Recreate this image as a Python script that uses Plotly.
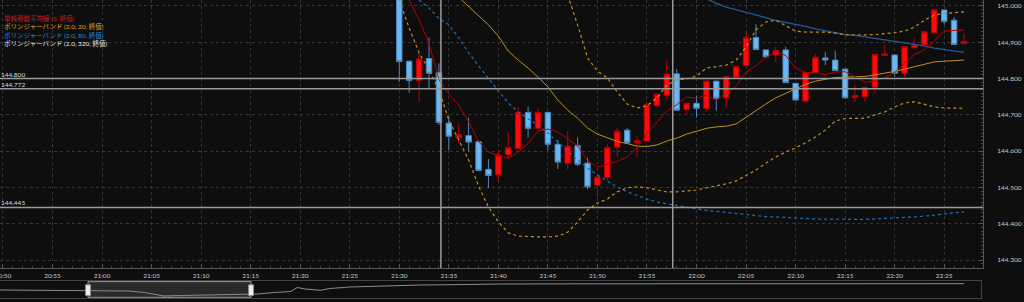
import plotly.graph_objects as go

DAY = "2024-05-14"
NEXT_DAY = "2024-05-15"

# ---------------- candle data (1-minute) ----------------
candle_times = [
    "21:30", "21:31", "21:32", "21:33", "21:34", "21:35", "21:36", "21:37", "21:38", "21:39",
    "21:40", "21:41", "21:42", "21:43", "21:44", "21:45", "21:46", "21:47", "21:48", "21:49",
    "21:50", "21:51", "21:52", "21:53", "21:54", "21:55", "21:56", "21:57", "21:58", "21:59",
    "22:00", "22:01", "22:02", "22:03", "22:04", "22:05", "22:06", "22:07", "22:08", "22:09",
    "22:10", "22:11", "22:12", "22:13", "22:14", "22:15", "22:16", "22:17", "22:18", "22:19",
    "22:20", "22:21", "22:22", "22:23", "22:24", "22:25", "22:26", "22:27",
]
opens = [
    145.065, 144.848, 144.795, 144.855, 144.817, 144.677, 144.637, 144.643, 144.626, 144.550,
    144.535, 144.591, 144.608, 144.707, 144.663, 144.707, 144.619, 144.567, 144.615, 144.567,
    144.506, 144.528, 144.611, 144.658, 144.623, 144.628, 144.726, 144.754, 144.813, 144.715,
    144.732, 144.718, 144.793, 144.747, 144.804, 144.836, 144.913, 144.879, 144.865, 144.879,
    144.787, 144.738, 144.816, 144.857, 144.851, 144.826, 144.748, 144.750, 144.776, 144.864,
    144.865, 144.815, 144.885, 144.894, 144.926, 144.989, 144.961, 144.897,
]
highs = [
    145.080, 144.849, 144.871, 144.913, 144.842, 144.697, 144.677, 144.693, 144.627, 144.578,
    144.601, 144.651, 144.721, 144.723, 144.718, 144.708, 144.631, 144.654, 144.638, 144.582,
    144.530, 144.619, 144.663, 144.663, 144.643, 144.732, 144.758, 144.853, 144.826, 144.733,
    144.753, 144.794, 144.794, 144.806, 144.834, 144.931, 144.950, 144.880, 144.888, 144.888,
    144.788, 144.817, 144.868, 144.874, 144.877, 144.829, 144.782, 144.777, 144.868, 144.894,
    144.866, 144.889, 144.910, 144.930, 144.990, 144.990, 144.969, 144.925,
]
lows = [
    144.791, 144.761, 144.734, 144.773, 144.672, 144.603, 144.622, 144.599, 144.545, 144.498,
    144.515, 144.578, 144.606, 144.638, 144.662, 144.603, 144.551, 144.550, 144.559, 144.495,
    144.474, 144.519, 144.585, 144.620, 144.585, 144.625, 144.720, 144.739, 144.713, 144.702,
    144.693, 144.709, 144.712, 144.720, 144.803, 144.834, 144.879, 144.857, 144.845, 144.788,
    144.740, 144.734, 144.815, 144.837, 144.821, 144.745, 144.736, 144.736, 144.762, 144.863,
    144.805, 144.805, 144.884, 144.893, 144.925, 144.950, 144.893, 144.896,
]
closes = [
    144.847, 144.795, 144.854, 144.815, 144.679, 144.641, 144.645, 144.625, 144.547, 144.533,
    144.590, 144.610, 144.707, 144.663, 144.707, 144.619, 144.570, 144.614, 144.564, 144.502,
    144.529, 144.610, 144.655, 144.623, 144.629, 144.729, 144.757, 144.812, 144.713, 144.732,
    144.718, 144.793, 144.746, 144.805, 144.833, 144.913, 144.880, 144.860, 144.877, 144.789,
    144.741, 144.816, 144.859, 144.851, 144.822, 144.747, 144.753, 144.776, 144.867, 144.868,
    144.815, 144.888, 144.894, 144.929, 144.989, 144.957, 144.894, 144.902,
]

# ---------------- indicator readings ----------------
sma5_start = "21:30"
sma5 = [
    145.060, 145.017, 144.961, 144.898, 144.798, 144.757, 144.727, 144.681, 144.627, 144.598,
    144.588, 144.581, 144.597, 144.621, 144.655, 144.661, 144.653, 144.635, 144.615, 144.574,
    144.556, 144.564, 144.572, 144.584, 144.609, 144.649, 144.679, 144.710, 144.728, 144.749,
    144.746, 144.754, 144.740, 144.759, 144.779, 144.818, 144.835, 144.858, 144.873, 144.864,
    144.829, 144.817, 144.816, 144.811, 144.818, 144.819, 144.806, 144.790, 144.793, 144.802,
    144.816, 144.843, 144.866, 144.879, 144.903, 144.931, 144.933, 144.934,
]

bb20_mid_start = "21:36"
bb20_mid = [
    145.024, 144.999, 144.973, 144.948, 144.917, 144.876, 144.851, 144.829, 144.804, 144.777,
    144.741, 144.713, 144.691, 144.664, 144.647, 144.636, 144.627, 144.621, 144.614, 144.613,
    144.617, 144.628, 144.636, 144.647, 144.656, 144.663, 144.667, 144.669, 144.675, 144.694,
    144.713, 144.730, 144.747, 144.760, 144.773, 144.784, 144.793, 144.799, 144.803, 144.804,
    144.804, 144.806, 144.810, 144.814, 144.820, 144.826, 144.832, 144.839, 144.846, 144.848,
    144.850, 144.851,
]

bb20_upper_start = "21:47"
bb20_upper = [
    145.030, 144.948, 144.857, 144.821, 144.802, 144.763, 144.730, 144.719, 144.725, 144.747,
    144.782, 144.796, 144.799, 144.807, 144.829, 144.833, 144.837, 144.851, 144.887, 144.934,
    144.956, 144.961, 144.945, 144.931, 144.928, 144.928, 144.928, 144.925, 144.921, 144.920,
    144.920, 144.921, 144.924, 144.926, 144.931, 144.942, 144.961, 144.975, 144.979, 144.982,
    144.984,
]

bb20_lower_start = "21:30"
bb20_lower = [
    145.017, 144.939, 144.871, 144.824, 144.769, 144.686, 144.631, 144.576, 144.504, 144.446,
    144.405, 144.375, 144.366, 144.364, 144.364, 144.364, 144.366, 144.377, 144.405, 144.438,
    144.457, 144.468, 144.488, 144.499, 144.502, 144.499, 144.493, 144.488, 144.488, 144.490,
    144.493, 144.499, 144.504, 144.510, 144.518, 144.532, 144.548, 144.567, 144.584, 144.598,
    144.609, 144.623, 144.639, 144.658, 144.683, 144.690, 144.690, 144.691, 144.700, 144.708,
    144.722, 144.733, 144.736, 144.729, 144.722, 144.719, 144.718, 144.718,
]

bb80_mid_start = "22:01"
bb80_mid = [
    145.020, 145.007, 144.997, 144.990, 144.983, 144.977, 144.968, 144.960, 144.955, 144.950,
    144.944, 144.937, 144.931, 144.926, 144.921, 144.919, 144.915, 144.910, 144.908, 144.904,
    144.898, 144.894, 144.890, 144.884, 144.880, 144.876, 144.872,
]

bb80_lower_start = "21:32"
bb80_lower = [
    145.017, 144.994, 144.966, 144.948, 144.912, 144.871, 144.835, 144.799, 144.766, 144.733,
    144.708, 144.689, 144.672, 144.650, 144.625, 144.601, 144.576, 144.554, 144.534, 144.518,
    144.501, 144.488, 144.477, 144.468, 144.460, 144.455, 144.449, 144.445, 144.441, 144.437,
    144.434, 144.431, 144.429, 144.426, 144.423, 144.420, 144.419, 144.417, 144.416, 144.415,
    144.413, 144.413, 144.412, 144.412, 144.412, 144.412, 144.413, 144.415, 144.416, 144.417,
    144.419, 144.421, 144.424, 144.427, 144.430, 144.433,
]

# horizontal reference lines and vertical cursor lines
hline_prices = [144.800, 144.772, 144.445]
vline_times = ["21:34:12", "21:57:36"]

legend_labels = [
    "単純移動平均線 (5, 終値)",
    "ボリンジャーバンド (2.0, 20, 終値)",
    "ボリンジャーバンド (2.0, 80, 終値)",
    "ボリンジャーバンド (2.0, 320, 終値)",
]
legend_colors = ["#d01818", "#e0a22a", "#2a86dc", "#e6e6e6"]

# navigator (overview) series
nav_times = [
    (DAY, "19:56"), (DAY, "20:14"), (DAY, "20:33"), (DAY, "20:50"), (DAY, "21:03"),
    (DAY, "21:15"), (DAY, "21:24"), (DAY, "21:36"), (DAY, "21:46"), (DAY, "21:58"),
    (DAY, "22:13"), (DAY, "22:25"), (DAY, "22:33"), (DAY, "22:43"), (DAY, "22:53"),
    (DAY, "22:57"), (DAY, "23:02"), (DAY, "23:11"), (DAY, "23:17"), (DAY, "23:29"),
    (DAY, "23:47"), (NEXT_DAY, "00:12"), (NEXT_DAY, "00:42"), (NEXT_DAY, "01:00"),
    (NEXT_DAY, "02:01"), (NEXT_DAY, "03:02"), (NEXT_DAY, "04:03"), (NEXT_DAY, "05:04"),
    (NEXT_DAY, "05:43"),
]
nav_values = [
    144.800, 144.788, 144.782, 144.770, 144.740, 144.740, 144.650, 144.440, 144.470, 144.500,
    144.530, 144.560, 144.560, 144.650, 144.710, 144.950, 144.860, 144.782, 144.890, 144.980,
    145.040, 145.100, 145.130, 145.160, 145.172, 145.178, 145.184, 145.178, 145.178,
]

# view ranges
main_x_range = [f"{DAY} 20:49:42", f"{DAY} 22:28:55"]
main_y_range = [144.2782, 145.0165]
nav_x_range = [f"{DAY} 19:56:06", f"{NEXT_DAY} 05:53:12"]
nav_y_range = [144.32, 145.34]


def ts(hm, day=DAY):
    return f"{day} {hm}:00" if hm.count(":") == 1 else f"{day} {hm}"


def xs_from(start, n):
    i = candle_times.index(start)
    return [ts(t) for t in candle_times[i:i + n]]


FONT = "Lato, Noto Sans CJK JP, sans-serif"
BG = "#0e0e0e"
GOLD = "#c0901e"

fig = go.Figure()

fig.add_trace(go.Candlestick(
    x=[ts(t) for t in candle_times], open=opens, high=highs, low=lows, close=closes,
    increasing=dict(line=dict(color="#c00000", width=1), fillcolor="#ff0a0a"),
    decreasing=dict(line=dict(color="#4f88b8", width=1), fillcolor="#68b8f8"),
    whiskerwidth=0, showlegend=False, hoverinfo="skip", xaxis="x", yaxis="y",
))

lines = [
    (bb80_lower_start, bb80_lower, "#1f6fbf", "dot", 1.2),
    (bb80_mid_start, bb80_mid, "#1f5c9c", "solid", 1.3),
    (bb20_lower_start, bb20_lower, GOLD, "dot", 1.2),
    (bb20_upper_start, bb20_upper, GOLD, "dot", 1.2),
    (bb20_mid_start, bb20_mid, GOLD, "solid", 1.0),
    (sma5_start, sma5, "#b80000", "solid", 1.0),
]
for start, vals, color, dash, w in lines:
    fig.add_trace(go.Scatter(
        x=xs_from(start, len(vals)), y=vals, mode="lines",
        line=dict(color=color, width=w, dash=dash),
        showlegend=False, hoverinfo="skip", xaxis="x", yaxis="y",
    ))

# navigator line
fig.add_trace(go.Scatter(
    x=[ts(t, d) for d, t in nav_times], y=nav_values, mode="lines",
    line=dict(color="#8c8c8c", width=1), showlegend=False, hoverinfo="skip",
    xaxis="x2", yaxis="y2",
))

shapes = []
for p in hline_prices:
    shapes.append(dict(type="line", xref="x domain", x0=0, x1=1, yref="y", y0=p, y1=p,
                       line=dict(color="#9a9a9a", width=1.5), layer="above"))
for t in vline_times:
    shapes.append(dict(type="line", xref="x", x0=ts(t), x1=ts(t), yref="y domain", y0=0, y1=1,
                       line=dict(color="#9a9a9a", width=1.5), layer="above"))
# navigator window and handles
shapes.append(dict(type="rect", xref="x2", x0=main_x_range[0], x1=main_x_range[1],
                   yref="y2 domain", y0=0.04, y1=0.96, fillcolor="#2a2a2a",
                   line=dict(color="#9a9a9a", width=1), layer="below"))
for edge in main_x_range:
    shapes.append(dict(type="rect", xref="x2", xsizemode="pixel", xanchor=edge, x0=-2.5, x1=2.5,
                       yref="y2 domain", y0=0.14, y1=0.78, fillcolor="#ececec",
                       line=dict(color="#888888", width=1), layer="above"))

annotations = []
legend_y_px = [18.3, 26.7, 35.0, 43.3]
for txt, col, ypx in zip(legend_labels, legend_colors, legend_y_px):
    annotations.append(dict(text=txt, xref="paper", yref="paper", x=0.002, y=1 - ypx / 302,
                            xanchor="left", yanchor="middle", showarrow=False,
                            font=dict(family=FONT, size=6.5, color=col)))
for p in hline_prices:
    annotations.append(dict(text=f"{p:.3f}", xref="paper", yref="y", x=0.0, y=p,
                            xanchor="left", yanchor="bottom", showarrow=False, borderpad=0,
                            font=dict(family=FONT, size=6.5, color="#dddddd")))

tickfont = dict(family=FONT, size=6.5, color="#c8c8c8")

fig.update_layout(
    template="none",
    width=1024, height=302,
    margin=dict(l=0, r=0, t=0, b=0),
    paper_bgcolor=BG, plot_bgcolor=BG,
    showlegend=False, boxgap=0.22,
    shapes=shapes, annotations=annotations,
    xaxis=dict(
        domain=[0, 983 / 1024], anchor="y", type="date", range=main_x_range,
        tickformat="%H:%M", dtick=300000, tick0=f"{DAY} 20:00:00",
        showgrid=True, gridcolor="#353535", griddash="dot", gridwidth=1,
        ticks="inside", ticklen=4, tickcolor="#555555",
        showline=True, linecolor="#555555", linewidth=1,
        minor=dict(dtick=60000, ticks="inside", ticklen=2, tickcolor="#4a4a4a", showgrid=False),
        tickfont=tickfont, ticklabelstandoff=1, ticklabeloverflow="allow",
        rangeslider=dict(visible=False), zeroline=False, automargin=False, fixedrange=True,
    ),
    yaxis=dict(
        domain=[34 / 302, 1], anchor="x", range=main_y_range, side="right",
        dtick=0.1, tick0=144.0, tickformat=".3f",
        showgrid=True, gridcolor="#353535", griddash="dot", gridwidth=1,
        ticks="inside", ticklen=4, tickcolor="#555555",
        showline=True, linecolor="#555555", linewidth=1,
        minor=dict(dtick=0.01, ticks="inside", ticklen=2, tickcolor="#4a4a4a", showgrid=False),
        tickfont=tickfont, ticklabelstandoff=12, ticklabeloverflow="allow",
        zeroline=False, automargin=False, fixedrange=True,
    ),
    xaxis2=dict(
        domain=[0, 981 / 1024], anchor="y2", type="date", range=nav_x_range,
        showticklabels=False, ticks="", showgrid=False, showline=True, mirror=True,
        linecolor="#444444", zeroline=False, automargin=False, fixedrange=True,
    ),
    yaxis2=dict(
        domain=[4 / 302, 21 / 302], anchor="x2", range=nav_y_range,
        showticklabels=False, ticks="", showgrid=False, showline=True, mirror=True,
        linecolor="#444444", zeroline=False, automargin=False, fixedrange=True,
    ),
)

fig.write_html("out.html")
